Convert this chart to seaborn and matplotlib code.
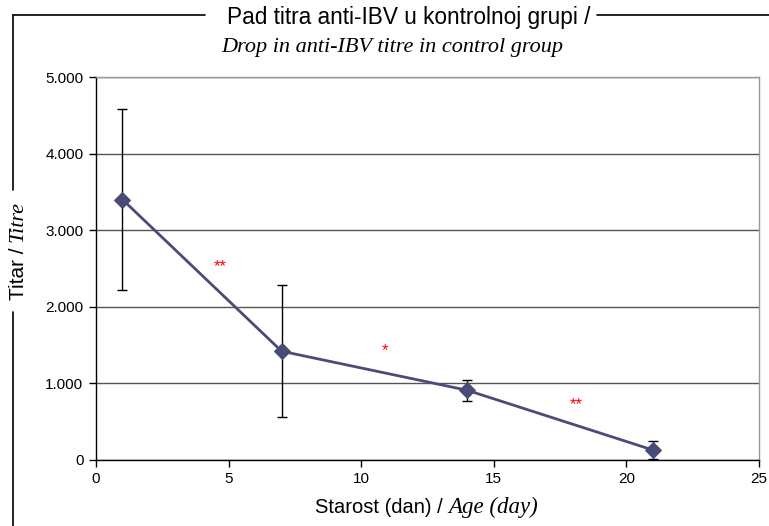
import matplotlib
matplotlib.use("Agg")
import matplotlib.pyplot as plt
from matplotlib.lines import Line2D
from matplotlib.ticker import FuncFormatter
import pandas as pd
import seaborn as sns

# data
age_days = [1, 7, 14, 21]
titre = [3400, 1420, 910, 130]
titre_err = [1180, 860, 140, 120]
star_x = [4.7, 10.9, 18.1]
star_y = [2530, 1430, 720]
star_text = ["**", "*", "**"]

sans = ["Liberation Sans", "DejaVu Sans"]
serif = ["Liberation Serif", "DejaVu Serif"]

sns.set_style("white")
plt.rcParams["font.family"] = sans
plt.rcParams["text.color"] = "black"
plt.rcParams["xtick.color"] = "black"
plt.rcParams["ytick.color"] = "black"

df = pd.DataFrame({"age": age_days, "titre": titre})

fig = plt.figure(figsize=(7.69, 5.26), dpi=100)
ax = fig.add_axes([0.1248, 0.1255, 0.8622, 0.7281])

line_col = "#4a4c78"
ax.errorbar(age_days, titre, yerr=titre_err, fmt="none", ecolor="black",
            elinewidth=1, capsize=3.5, capthick=1, zorder=2)
sns.lineplot(data=df, x="age", y="titre", color=line_col, linewidth=2,
             marker="D", markersize=8, markeredgecolor=line_col, ax=ax, zorder=3)

for x, y, s in zip(star_x, star_y, star_text):
    ax.text(x, y, s, color="red", fontsize=12, ha="center", va="center")

ax.set_xlim(0, 25)
ax.set_ylim(0, 5000)
ax.set_xticks([0, 5, 10, 15, 20, 25])
ax.set_yticks([0, 1000, 2000, 3000, 4000, 5000])
ax.yaxis.set_major_formatter(FuncFormatter(lambda v, p: f"{v:,.0f}".replace(",", ".")))
ax.set_xlabel("")
ax.set_ylabel("")

ax.grid(axis="y", color="#555555", linewidth=1)
ax.grid(axis="x", visible=False)
ax.set_axisbelow(True)
for side in ["top", "right"]:
    ax.spines[side].set_color("#999999")
    ax.spines[side].set_linewidth(1)
for side in ["left", "bottom"]:
    ax.spines[side].set_color("black")
    ax.spines[side].set_linewidth(1)
ax.tick_params(axis="both", direction="out", length=5, width=1, color="black",
               labelsize=11, pad=4, left=True, bottom=True)

# title in two lines: roman then italic
fig.text(0.531, 0.967, "Pad titra anti-IBV u kontrolnoj grupi /", ha="center",
         va="center", fontsize=16.3, family=sans)
fig.text(0.51, 0.91, "Drop in anti-IBV titre in control group", ha="center",
         va="center", fontsize=16, style="italic", family=serif)

# x label: roman part + italic part
xl = fig.text(0.41, 0.025, "Starost (dan) / ", ha="left", va="baseline",
              fontsize=14.5, family=sans)
fig.canvas.draw()
bb = xl.get_window_extent().transformed(fig.transFigure.inverted())
fig.text(bb.x1, 0.025, "Age (day)", ha="left", va="baseline", fontsize=16.5,
         style="italic", family=serif)

# y label: rotated, roman + italic
yl = fig.text(0.024, 0.43, "Titar / ", rotation=90, ha="center", va="bottom",
              fontsize=15, family=sans)
fig.canvas.draw()
bb = yl.get_window_extent().transformed(fig.transFigure.inverted())
fig.text(0.024, bb.y1, "Titre", rotation=90, ha="center", va="bottom",
         fontsize=16, style="italic", family=serif)

# outer frame broken by title and y label
frame = dict(color="black", linewidth=1.2, transform=fig.transFigure)
fig.add_artist(Line2D([0.017, 0.267], [0.9715, 0.9715], **frame))
fig.add_artist(Line2D([0.776, 1.0], [0.9715, 0.9715], **frame))
fig.add_artist(Line2D([0.017, 0.017], [0.9715, 0.639], **frame))
fig.add_artist(Line2D([0.017, 0.017], [0.407, 0.0], **frame))

fig.savefig("out.png", dpi=100)
